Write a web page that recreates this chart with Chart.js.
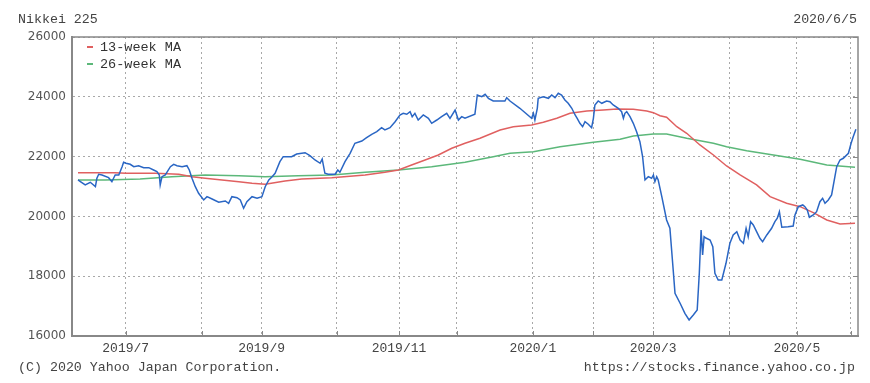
<!DOCTYPE html>
<html>
<head>
<meta charset="utf-8">
<script src="https://cdn.jsdelivr.net/npm/chart.js@4"></script>
<style>
  html,body{margin:0;padding:0;background:#fff;}
  #wrap{position:relative;width:870px;height:383px;overflow:hidden;}
  #c{position:absolute;left:0;top:0;}
  .t{position:absolute;font-family:"Liberation Mono","DejaVu Sans Mono",monospace;color:#444;font-size:13.3px;line-height:14px;white-space:pre;}
  .lg{position:absolute;font-family:"Liberation Mono","DejaVu Sans Mono",monospace;color:#333;font-size:13.5px;line-height:14px;white-space:pre;}
  .sw{position:absolute;width:6px;height:2px;}
</style>
</head>
<body>
<div id="wrap">
  <canvas id="c" width="870" height="383"></canvas>
  <div class="t" style="left:18px;top:13px;">Nikkei 225</div>
  <div class="t" style="right:13px;top:13px;">2020/6/5</div>
  <div class="t" style="left:18px;top:361px;">(C) 2020 Yahoo Japan Corporation.</div>
  <div class="t" style="right:15px;top:361px;">https://stocks.finance.yahoo.co.jp</div>
  <div class="sw" style="left:87px;top:46px;background:#e06060;"></div>
  <div class="lg" style="left:100px;top:41px;">13-week MA</div>
  <div class="sw" style="left:87px;top:63px;background:#5cb87a;"></div>
  <div class="lg" style="left:100px;top:58px;">26-week MA</div>
</div>
<script>
// ---- data (x = trading-day index, y = index level) ----
const priceIdx = [2.0,2.8,4.4,6.1,7.8,8.3,8.9,10.0,12.2,13.3,13.9,14.4,15.6,16.7,17.2,18.0,19.4,20.6,22.2,23.9,25.6,27.2,28.3,29.1,29.4,30.0,31.1,32.8,33.9,35.0,36.7,38.3,39.1,40.0,41.1,42.2,43.9,45.0,46.7,48.9,51.1,52.2,53.3,55.0,56.1,57.2,58.3,60.0,61.7,63.3,64.4,65.6,66.7,67.7,69.3,70.4,73.2,74.9,77.7,79.3,81.0,82.7,83.4,84.3,85.4,87.7,88.6,89.3,91.0,92.7,94.3,96.6,98.2,99.9,101.6,103.2,104.3,106.0,107.7,109.3,110.4,111.6,112.7,113.4,114.3,115.4,117.1,118.8,119.9,121.6,123.2,124.9,126.0,127.7,128.8,129.9,131.0,134.3,135.1,136.6,137.7,138.8,140.4,142.7,144.3,144.9,146.0,149.3,153.2,153.8,154.3,155.1,155.4,157.1,158.8,159.9,161.0,162.1,163.2,164.3,165.4,166.6,167.7,168.4,169.3,170.2,171.0,172.1,173.2,173.8,174.3,175.4,176.6,178.2,179.3,180.4,182.1,183.2,183.8,184.3,184.9,186.0,187.1,188.2,189.3,190.2,191.0,192.1,193.2,193.8,194.3,194.9,195.4,196.6,198.2,199.3,200.4,201.0,202.7,204.3,205.7,207.1,208.4,209.1,209.7,210.2,210.7,211.3,212.7,213.6,214.3,215.4,216.6,218.0,219.3,220.4,221.6,222.7,223.8,224.7,225.4,226.2,227.1,228.2,229.3,230.2,231.6,233.2,234.3,235.1,235.8,236.6,238.7,240.4,241.0,242.1,243.6,244.3,245.1,245.8,247.1,248.2,249.3,250.2,251.0,252.1,253.2,254.3,254.9,256.0,257.1,258.8,259.7,260.4,261.3];
const priceVal = [21218,21161,21051,21141,20994,21275,21409,21385,21295,21161,21285,21385,21385,21663,21810,21777,21743,21663,21696,21629,21629,21552,21496,21385,21051,21328,21385,21663,21743,21696,21663,21696,21552,21275,20994,20773,20549,20660,20583,20472,20516,20439,20660,20626,20549,20272,20492,20660,20606,20660,20994,21218,21328,21442,21830,21997,21997,22087,22131,22031,21887,21777,21920,21442,21409,21409,21552,21476,21830,22111,22445,22522,22633,22746,22833,22967,22890,22967,23168,23392,23448,23415,23502,23335,23448,23224,23392,23281,23114,23224,23335,23448,23281,23559,23224,23335,23281,23415,24060,24004,24084,23950,23860,23860,23860,23970,23860,23616,23281,23448,23224,23616,23950,24004,23950,24060,23970,24117,24060,23893,23783,23616,23392,23281,23114,23000,23168,23081,22967,23281,23726,23860,23783,23860,23837,23726,23616,23502,23281,23448,23502,23335,23114,22833,22499,21997,21218,21328,21275,21385,21161,21328,21218,20660,19880,19603,18208,17429,17095,16760,16536,16704,16871,18098,19546,18710,19322,19278,19212,18988,18098,17874,17874,18432,19101,19379,19489,19212,19101,19603,19322,19823,19713,19489,19268,19155,19379,19603,19823,19937,20158,19636,19657,19680,20048,20325,20382,20325,20215,19971,20048,20158,20492,20606,20439,20549,20716,21328,21663,21887,21944,22111,22445,22666,22913];

const ma13Idx = [2.0,14.3,18.0,27.7,35.6,40.0,44.4,50.0,55.6,60.0,64.4,71.0,76.6,86.6,97.7,104.3,108.8,113.2,117.7,122.1,126.6,131.0,136.0,142.7,147.1,153.2,157.1,161.6,166.0,171.6,177.1,181.6,187.1,191.6,193.8,196.0,198.2,201.6,204.9,209.3,213.8,218.2,222.7,228.2,232.7,238.2,242.7,247.1,251.6,256.0,261.0];
const ma13Val = [21462,21462,21442,21442,21409,21328,21275,21218,21161,21108,21074,21185,21252,21295,21385,21476,21552,21720,21887,22054,22278,22445,22613,22890,23000,23057,23148,23281,23448,23525,23559,23592,23582,23525,23469,23368,23315,23000,22780,22389,22054,21686,21385,21051,20660,20439,20325,20125,19880,19747,19770];

const ma26Idx = [2.0,11.1,22.7,33.3,44.4,55.6,64.3,75.4,86.6,97.7,108.8,119.9,131.0,140.4,146.0,153.8,162.7,173.8,182.7,187.1,193.8,198.2,204.9,213.8,218.2,224.9,233.8,242.7,251.6,261.0];
const ma26Val = [21218,21218,21252,21328,21385,21362,21328,21362,21385,21476,21552,21663,21810,21997,22111,22164,22332,22479,22579,22689,22756,22756,22613,22445,22332,22198,22054,21910,21720,21643];

const monthTickIdx = [17.9,43.2,63.2,88.2,109.0,128.2,153.6,173.7,193.7,219.0,241.6,259.6];
const monthLabels = ['2019/7','','2019/9','','2019/11','','2020/1','','2020/3','','2020/5',''];
const yTicks = [16000,18000,20000,22000,24000,26000];

const pts = (xs, ys) => xs.map((x, i) => ({x: x, y: ys[i]}));

const innerTicks = {
  id: 'innerTicks',
  afterDraw(chart) {
    const {ctx, chartArea: a, scales: {x, y}} = chart;
    ctx.save();
    ctx.strokeStyle = '#888';
    ctx.lineWidth = 1;
    ctx.beginPath();
    monthTickIdx.forEach(v => {
      const px = Math.round(x.getPixelForValue(v)) + 0.5;
      ctx.moveTo(px, a.bottom); ctx.lineTo(px, a.bottom - 5);
    });
    yTicks.forEach(v => {
      const py = Math.round(y.getPixelForValue(v)) + 0.5;
      ctx.moveTo(a.right, py); ctx.lineTo(a.right - 5, py);
    });
    ctx.stroke();
    ctx.restore();
  }
};

new Chart(document.getElementById('c'), {
  type: 'line',
  data: {
    datasets: [
      {label: 'Nikkei 225', data: pts(priceIdx, priceVal), borderColor: '#2a66c4', borderWidth: 1.5, pointRadius: 0, tension: 0},
      {label: '13-week MA', data: pts(ma13Idx, ma13Val), borderColor: '#e06060', borderWidth: 1.5, pointRadius: 0, tension: 0},
      {label: '26-week MA', data: pts(ma26Idx, ma26Val), borderColor: '#5cb87a', borderWidth: 1.5, pointRadius: 0, tension: 0}
    ]
  },
  options: {
    responsive: false,
    animation: false,
    devicePixelRatio: 1,
    layout: {padding: {top: 37, right: 12, left: 0, bottom: 0}},
    plugins: {legend: {display: false}, tooltip: {enabled: false}, title: {display: false}},
    scales: {
      x: {
        type: 'linear', min: 0, max: 262,
        afterFit(s) { s.height = 47; },
        afterBuildTicks(s) { s.ticks = monthTickIdx.map(v => ({value: v})); },
        ticks: {
          autoSkip: false, maxRotation: 0, padding: 5,
          color: '#444',
          font: {family: '"Liberation Mono","DejaVu Sans Mono",monospace', size: 13},
          callback(v) { const i = monthTickIdx.indexOf(v); return i >= 0 ? monthLabels[i] : ''; }
        },
        grid: {color: '#a8a8a8', lineWidth: 1, drawTicks: false},
        border: {display: true, color: '#888', width: 2, dash: [2, 3]},
      },
      y: {
        min: 16000, max: 26000,
        afterFit(s) { s.width = 72; },
        afterBuildTicks(s) { s.ticks = yTicks.map(v => ({value: v})); },
        ticks: {
          padding: 6, color: '#555',
          font: {family: '"DejaVu Sans", sans-serif', size: 12},
          callback(v) { return String(v); }
        },
        grid: {color: '#a8a8a8', lineWidth: 1, drawTicks: false},
        border: {display: true, color: '#888', width: 2, dash: [2, 3]}
      }
    }
  },
  plugins: [innerTicks, {
    id: 'frame',
    afterDraw(chart) {
      const {ctx, chartArea: a} = chart;
      ctx.save();
      ctx.strokeStyle = '#888';
      ctx.lineWidth = 1.5;
      ctx.strokeRect(a.left, a.top, a.right - a.left, a.bottom - a.top);
      ctx.restore();
    }
  }]
});
</script>
</body>
</html>
